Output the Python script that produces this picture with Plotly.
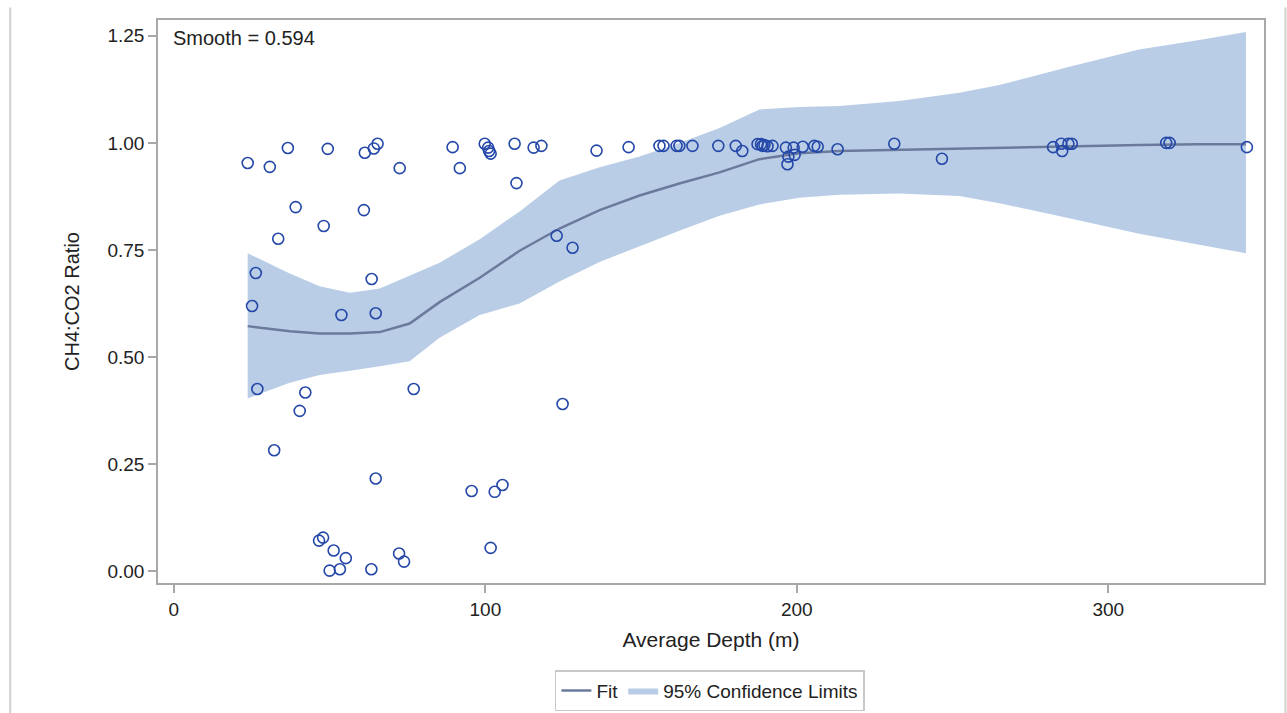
import plotly.graph_objects as go

# Observed data points (Average Depth in m, CH4:CO2 ratio)
depth = [23.7, 30.8, 36.6, 49.4, 61.3, 64.2, 65.4, 72.5, 89.5, 91.8, 99.8, 100.9, 101.2, 101.7,
         110.0, 109.4, 115.5, 118.0, 135.7, 146.0, 155.9, 157.2, 161.4, 162.3, 166.5, 174.8,
         180.4, 182.5, 187.4, 188.5, 189.0, 189.6, 190.6, 192.2, 196.5, 197.3, 197.0, 199.3,
         199.0, 201.9, 205.6, 206.7, 213.1, 231.3, 246.6, 282.3, 284.9, 285.2, 287.2, 288.3,
         318.6, 319.7, 344.5,
         39.1, 61.0, 48.1, 33.5, 26.3, 63.5, 25.1, 53.8, 64.8, 122.9, 128.0,
         26.8, 42.2, 77.0, 40.4, 32.2, 64.8, 124.8, 95.6, 103.0, 105.5, 101.7,
         47.9, 46.6, 51.3, 55.2, 50.0, 53.3, 63.4, 72.3, 73.9]
ratio = [0.953, 0.944, 0.988, 0.986, 0.977, 0.987, 0.998, 0.941, 0.990, 0.941, 0.998, 0.989,
         0.981, 0.975, 0.906, 0.998, 0.989, 0.993, 0.982, 0.990, 0.993, 0.993, 0.993, 0.993,
         0.993, 0.993, 0.993, 0.981, 0.997, 0.997, 0.993, 0.995, 0.992, 0.993, 0.989, 0.968,
         0.950, 0.972, 0.989, 0.991, 0.993, 0.991, 0.985, 0.998, 0.963, 0.990, 0.998, 0.981,
         0.998, 0.998, 1.000, 1.000, 0.990,
         0.850, 0.843, 0.806, 0.776, 0.696, 0.682, 0.619, 0.598, 0.602, 0.783, 0.755,
         0.425, 0.417, 0.425, 0.374, 0.282, 0.216, 0.390, 0.187, 0.185, 0.201, 0.054,
         0.078, 0.071, 0.048, 0.030, 0.001, 0.004, 0.004, 0.041, 0.022]

# Loess fit and 95% confidence limits
fit_x = [23.7, 37.2, 46.8, 56.5, 66.1, 75.7, 85.3, 98.2, 111.0, 123.8, 136.7, 149.5, 162.3,
         175.2, 188.0, 200.8, 213.7, 232.9, 252.2, 265.0, 287.5, 309.9, 329.2, 344.2]
fit_y = [0.572, 0.560, 0.555, 0.555, 0.558, 0.578, 0.628, 0.685, 0.748, 0.800, 0.843, 0.877,
         0.905, 0.931, 0.962, 0.976, 0.981, 0.984, 0.987, 0.988, 0.991, 0.995, 0.997, 0.997]
upper = [0.742, 0.695, 0.665, 0.650, 0.660, 0.690, 0.720, 0.775, 0.840, 0.912, 0.943, 0.968,
         1.000, 1.035, 1.078, 1.084, 1.086, 1.098, 1.117, 1.135, 1.178, 1.218, 1.240, 1.259]
lower = [0.403, 0.440, 0.458, 0.468, 0.478, 0.490, 0.545, 0.598, 0.625, 0.676, 0.722, 0.758,
         0.795, 0.830, 0.856, 0.872, 0.879, 0.882, 0.876, 0.859, 0.824, 0.788, 0.762, 0.742]

smooth_label = "Smooth = 0.594"
x_ticks = [0, 100, 200, 300]
y_ticks = [0.0, 0.25, 0.5, 0.75, 1.0, 1.25]

FONT = "Liberation Sans, Arial, sans-serif"
band_col = "#B9CEE6"
line_col = "#6B7A9C"
mark_col = "#2447A8"

fig = go.Figure()
fig.add_trace(go.Scatter(x=fit_x + fit_x[::-1], y=upper + lower[::-1], fill="toself",
                         fillcolor=band_col, line=dict(width=0), mode="lines",
                         name="95% Confidence Limits", hoverinfo="skip", legendrank=2))
fig.add_trace(go.Scatter(x=fit_x, y=fit_y, mode="lines", line=dict(color=line_col, width=2.5),
                         name="Fit", legendrank=1))
fig.add_trace(go.Scatter(x=depth, y=ratio, mode="markers", showlegend=False,
                         marker=dict(symbol="circle-open", size=11, color=mark_col,
                                     line=dict(width=1.6, color=mark_col))))

fig.add_annotation(x=0.012, y=0.992, xref="paper", yref="paper", xanchor="left", yanchor="top",
                   text=smooth_label, showarrow=False, font=dict(size=20, color="#222", family=FONT))

# outer graph border
fig.add_shape(type="line", xref="paper", yref="paper", x0=-0.1336, x1=-0.1336, y0=1.022, y1=-0.3,
              line=dict(color="#D0D0D0", width=2))
fig.add_shape(type="line", xref="paper", yref="paper", x0=1.0194, x1=1.0194, y0=1.022, y1=-0.3,
              line=dict(color="#D0D0D0", width=2))

axis_common = dict(showline=True, linecolor="#A8A8A8", linewidth=1.5, mirror=True,
                   ticks="outside", ticklen=8, tickcolor="#A8A8A8", tickwidth=1.5,
                   showgrid=False, zeroline=False, automargin=False,
                   tickfont=dict(size=19, color="#222", family=FONT))

fig.update_layout(
    width=1287, height=713,
    margin=dict(l=158, r=23, t=20, b=130, autoexpand=False),
    paper_bgcolor="white", plot_bgcolor="white",
    font=dict(family=FONT, color="#222"),
    xaxis=dict(range=[-5.1, 350], tickvals=x_ticks, ticktext=[str(v) for v in x_ticks],
               title=dict(text="Average Depth (m)", font=dict(size=21, family=FONT, color="#222"),
                          standoff=14), **axis_common),
    yaxis=dict(range=[-0.028, 1.287], tickvals=y_ticks, tickformat=".2f",
               title=dict(text="CH4:CO2 Ratio", font=dict(size=20, family=FONT, color="#222"),
                          standoff=22), **axis_common),
    legend=dict(orientation="h", x=0.499, xanchor="center", yref="container", y=0.06, yanchor="top",
                bordercolor="#C8C8C8", borderwidth=1.5, font=dict(size=19, family=FONT, color="#222"),
                traceorder="normal", tracegroupgap=0),
)

fig.write_html("out.html")
